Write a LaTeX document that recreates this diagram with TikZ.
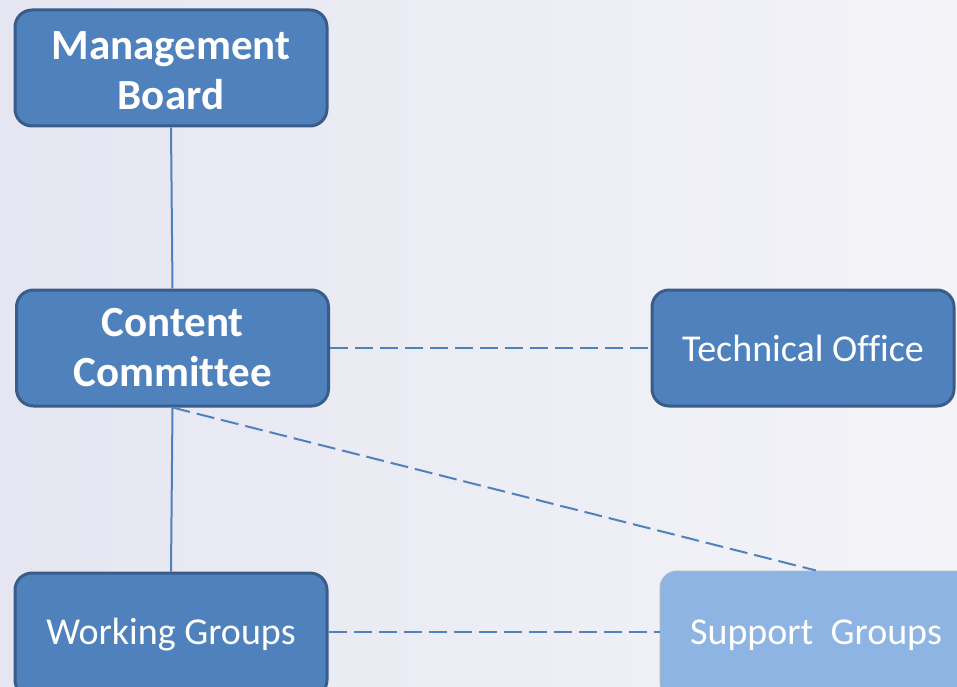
\documentclass[tikz,border=0pt]{standalone}
\usepackage{fontspec}
\setmainfont[Ligatures={NoCommon}]{Carlito}
\definecolor{bgl}{RGB}{230,230,242}
\definecolor{bgr}{RGB}{243,243,248}
\definecolor{boxfill}{RGB}{79,129,189}
\definecolor{boxborder}{RGB}{56,93,138}
\definecolor{sgfill}{RGB}{142,180,227}
\definecolor{sgborder}{RGB}{170,185,205}
\definecolor{conncol}{RGB}{79,129,189}
\begin{document}
\begin{tikzpicture}[x=1pt,y=-1pt,
  box/.style={rectangle, rounded corners=17pt, fill=boxfill, draw=boxborder, line width=3pt,
    text=white, align=center, inner sep=0pt, minimum width=312pt, minimum height=116pt},
  boldtext/.style={font=\fontsize{43}{50}\selectfont\bfseries},
  regtext/.style={font=\fontsize{38}{44}\selectfont},
  conn/.style={draw=conncol, line width=2pt},
  dashconn/.style={conn, dash pattern=on 18pt off 7pt}]
\useasboundingbox (0,0) rectangle (957,687);
\clip (0,0) rectangle (957,687);
\shade[left color=bgl, right color=bgr] (0,0) rectangle (957,687);

\node[box, boldtext] (mb) at (171,68) {\rule{0pt}{34pt}Management\\Board};
\node[box, boldtext] (cc) at (172.5,348) {Content\\Committee};
\node[box, regtext, minimum width=302pt] (to) at (803,348) {Technical Office};
\node[box, regtext, minimum height=124pt] (wg) at (171,635) {Working Groups};
\node[box, regtext, fill=sgfill, draw=sgborder, line width=1pt, minimum width=312pt, minimum height=128pt] (sg) at (816,635) {Support~ Groups};

\draw[conn] (mb.south) -- (cc.north);
\draw[conn] (cc.south) -- (wg.north);
\draw[dashconn] (cc.east) -- (to.west);
\draw[dashconn] (cc.south) -- (sg.north);
\draw[dashconn] ([yshift=3pt]wg.east) -- ([yshift=3pt]sg.west);
\end{tikzpicture}
\end{document}
